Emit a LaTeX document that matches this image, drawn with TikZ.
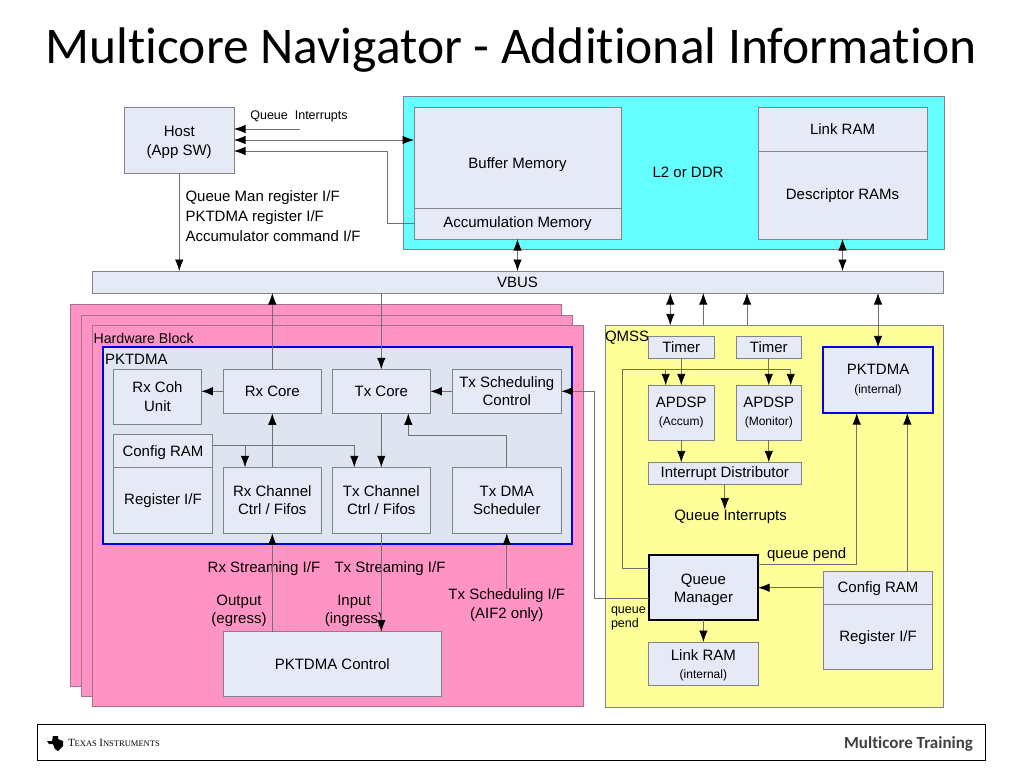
\documentclass[tikz,border=0pt]{standalone}
\usepackage{fontspec}
\setmainfont{Liberation Sans}
\newfontfamily\titlefont[Ligatures={NoCommon}]{Carlito}
\newfontfamily\logofont{Liberation Serif}
\usetikzlibrary{arrows.meta}

\definecolor{boxfill}{HTML}{E6EAF6}
\definecolor{dmafill}{HTML}{DEE5F0}
\definecolor{boxline}{HTML}{808488}
\definecolor{wiregray}{HTML}{707070}
\definecolor{pinkfill}{HTML}{FF94C4}
\definecolor{pinkline}{HTML}{A8708C}
\definecolor{cyanfill}{HTML}{66FFFF}
\definecolor{yellowfill}{HTML}{FFFF99}
\definecolor{dmablue}{HTML}{0000E0}

\tikzset{boxsize/.style 2 args={minimum width=#1pt,minimum height=#2pt}}

\begin{document}
\begin{tikzpicture}[x=1pt,y=-1pt,>={Latex[black,fill=black,length=11.5pt,width=8.5pt]}]
		\tikzstyle{every node}=[inner sep=0pt,outer sep=0pt,align=center]
		\tikzstyle{wire}=[color=wiregray,line width=0.8pt]
		\tikzstyle{hwbox}=[draw=boxline,fill=boxfill,line width=0.8pt,
								 font=\fontsize{15}{18.5}\selectfont]
		\tikzstyle{pinkbox}=[draw=pinkline,fill=pinkfill,line width=0.8pt]
		\tikzstyle{lbl}=[font=\fontsize{15}{18.5}\selectfont]
		\tikzstyle{smalllbl}=[font=\fontsize{12.5}{14}\selectfont]
		\newcommand*{\subtext}[1]{{\fontsize{12}{13}\selectfont #1}}

\useasboundingbox (0,0) rectangle (1024,768);

\node [font=\titlefont\fontsize{51.5}{51.5}\selectfont] at (511,50) (title) {Multicore Navigator - Additional Information};

% Memory Level
\node [draw=boxline,fill=cyanfill,boxsize={541}{153}] at (673.5,172.5) (l2back) {};
\node [lbl] at (688,172) (l2ddr) {L2 or DDR};
\node [hwbox,boxsize={207}{101}] at (517.5,157.5) (bufmem) {};
\node [lbl] at (517.5,164.5) (buflabel) {Buffer Memory};
\node [hwbox,boxsize={207}{31}] at (517.5,223.5) (accmem) {Accumulation Memory};
\node [hwbox,boxsize={169}{44}] at (842.5,129) (linkram) {Link RAM};
\node [hwbox,boxsize={169}{88},text height=13pt] at (842.5,195) (descram) {Descriptor RAMs};

\node [hwbox,boxsize={109.5}{66},text height=33.5pt] at (179.25,140) (host) {Host\\(App SW)};
\node [smalllbl] at (299,116.5) (qilabel) {Queue~~Interrupts};
\node [lbl,align=left,font=\fontsize{15}{20}\selectfont,anchor=west] at (185.5,216) (hostif) {Queue Man register I/F\\PKTDMA register I/F\\Accumulator command I/F};
\coordinate (qifree) at (300,129);
\coordinate (accbend) at (387,151);

\node [hwbox,boxsize={851}{22}] at (517.5,282) (vbus) {VBUS};

% Hardware Block Level
\node [pinkbox,boxsize={491}{382}] at (316.2,495) (hwback) {};
\node [pinkbox,boxsize={491}{381}] at (327.2,505.5) (hwmid) {};
\node [pinkbox,boxsize={491}{381}] at (338.2,516.2) (hwblock) {};
\node [font=\fontsize{14.2}{18}\selectfont,anchor=west] at (93.5,338) (hwlabel) {Hardware Block};

\node [draw=dmablue,fill=dmafill,line width=2pt,boxsize={469.6}{197}] at (337.5,445.8) (pktdma) {};
\node [lbl,anchor=west] at (105,359) (dmalabel) {PKTDMA};
\node [hwbox,boxsize={87.6}{54.7}] at (157.5,396.7) (rxcoh) {Rx Coh\\Unit};
\node [hwbox,boxsize={98}{44}] at (272.3,391.3) (rxcore) {Rx Core};
\node [hwbox,boxsize={98}{44}] at (381.3,391.3) (txcore) {Tx Core};
\node [hwbox,boxsize={109}{44}] at (506.8,391.3) (txsched) {Tx Scheduling\\Control};
\node [hwbox,boxsize={98.6}{32.6},text height=15pt] at (163,451) (cfgram) {Config RAM};
\node [hwbox,boxsize={98.6}{66}] at (163,500.3) (regif) {Register I/F};
\node [hwbox,boxsize={98}{66}] at (272.3,500.3) (rxchan) {Rx Channel\\Ctrl / Fifos};
\node [hwbox,boxsize={98}{66}] at (381.3,500.3) (txchan) {Tx Channel\\Ctrl / Fifos};
\node [hwbox,boxsize={109}{66}] at (506.8,500.3) (txdma) {Tx DMA\\Scheduler};
\coordinate (rxcfg) at (245,445.3);
\coordinate (txcfg) at (354.3,445.3);
\coordinate (dmabend) at (408.3,435);

\node [hwbox,boxsize={218}{64.6}] at (332.3,664) (pkctrl) {PKTDMA Control};
\node [lbl] at (264,568.5) (rxstream) {Rx Streaming I/F};
\node [lbl] at (390,568.5) (txstream) {Tx Streaming I/F};
\node [lbl] at (239,611) (egress) {Output\\(egress)};
\node [lbl] at (354,611) (ingress) {Input\\(ingress)};
\node [lbl] at (506.8,605) (txschedif) {Tx Scheduling I/F\\(AIF2 only)};

% QMSS Level
\node [draw=boxline,fill=yellowfill,line width=0.8pt,boxsize={338}{381.7}] at (774.3,516.2) (qmss) {};
\node [lbl,anchor=west] at (605,338) (qmsslabel) {QMSS};
\node [hwbox,boxsize={66}{22}] at (681.3,347.3) (timera) {Timer};
\node [hwbox,boxsize={65}{22}] at (768.8,347.3) (timerb) {Timer};
\node [hwbox,boxsize={66}{54.7}] at (681.3,412.7) (apdspa) {APDSP\\\subtext{(Accum)}};
\node [hwbox,boxsize={65}{54.7}] at (768.8,412.7) (apdspb) {APDSP\\\subtext{(Monitor)}};
\node [hwbox,boxsize={153}{21.7}] at (724.8,473.2) (intdist) {Interrupt Distributor};
\node [lbl] at (730.6,516.5) (qilow) {Queue Interrupts};
\node [draw=dmablue,fill=boxfill,line width=2pt,font=\fontsize{15}{18.5}\selectfont,boxsize={109.4}{65.7}] at (878,380.2) (pktint) {PKTDMA\\\subtext{(internal)}};
\node [draw=black,fill=boxfill,line width=2pt,font=\fontsize{15}{18.5}\selectfont,boxsize={109.3}{65.6},text height=33.5pt] at (703.4,587.5) (qman) {Queue\\Manager};
\node [hwbox,boxsize={109.3}{43.3},text height=33pt] at (703.4,663.7) (linkint) {Link RAM\\\subtext{(internal)}};
\node [hwbox,boxsize={109.4}{32.7},text height=13pt] at (878,587.7) (cfgqm) {Config RAM};
\node [hwbox,boxsize={109.4}{65.3},text height=13pt] at (878,636.7) (regqm) {Register I/F};
\node [lbl] at (806.7,554.5) (qplabel) {queue pend};
\node [smalllbl,align=left,anchor=west] at (611,618.5) (qpsmall) {queue\\pend};
\coordinate (busleft) at (622.7,369.3);
\coordinate (busright) at (790.7,369.3);
\coordinate (busa) at (665.7,369.3);
\coordinate (busbottom) at (622.7,568.3);
\coordinate (pendup) at (856.7,564.3);
\coordinate (cfgup) at (907.3,571.3);
\coordinate (schedbend) at (594.3,598);
\coordinate (vbusa) at (670.3,293);
\coordinate (vbusb) at (703.3,293);
\coordinate (vbusc) at (747,293);

% Connections
	\path[wire,->] (host.south) edge (host.south |- vbus.north);
	\path[wire,->] (qifree) edge (qifree -| host.east);
	\path[wire,<->] (host.east) edge (host.east -| bufmem.west);
	\draw[wire,->] (accmem.west) -| (accbend) -- (accbend -| host.east);
	\path[wire,<->] (accmem.south) edge (accmem.south |- vbus.north);
	\path[wire,<->] (descram.south) edge (descram.south |- vbus.north);

	\path[wire,->] (rxcore.north) edge (rxcore.north |- vbus.south);
	\path[wire,->] (txcore.north |- vbus.south) edge (txcore.north);
	\path[wire,->] (rxcore.west) edge (rxcoh.east |- rxcore.west);
	\path[wire,->] (txsched.west) edge (txcore.east);
	\path[wire,->] (rxchan.north) edge (rxcore.south);
	\path[wire,->] (txcore.south) edge (txchan.north);
	\draw[wire,->] (cfgram.east |- rxcfg) -- (txcfg) -- (txcfg |- txchan.north);
	\path[wire,->] (rxcfg) edge (rxcfg |- rxchan.north);
	\draw[wire,->] (txdma.north) |- (dmabend) -- (dmabend |- txcore.south);
	\path[wire,->] (rxchan.south |- pkctrl.north) edge (rxchan.south);
	\path[wire,->] (txchan.south) edge (txchan.south |- pkctrl.north);
	\path[wire,->] (txschedif.north) edge (txdma.south);

	\draw[wire,->] (qman.west |- schedbend) -- (schedbend) |- (txsched.east);
	\path[wire,<->] (vbusa) edge (vbusa |- qmss.north);
	\path[wire,->] (vbusb |- qmss.north) edge (vbusb);
	\path[wire,->] (vbusc |- qmss.north) edge (vbusc);
	\path[wire,<->] (pktint.north) edge (pktint.north |- vbus.south);
	\path[wire,->] (timera.south) edge (apdspa.north);
	\path[wire,->] (timerb.south) edge (apdspb.north);
	\draw[wire,->] (qman.west |- busbottom) -- (busbottom) -- (busleft) -- (busright) -- (busright |- apdspb.north);
	\path[wire,->] (busa) edge (busa |- apdspa.north);
	\path[wire,->] (apdspa.south) edge (apdspa.south |- intdist.north);
	\path[wire,->] (apdspb.south) edge (apdspb.south |- intdist.north);
	\path[wire,->] (intdist.south) edge (qilow.north -| intdist.south);
	\draw[wire,->] (qman.east |- pendup) -- (pendup) -- (pendup |- pktint.south);
	\path[wire,->] (cfgup) edge (cfgup |- pktint.south);
	\path[wire,->] (cfgqm.west) edge (cfgqm.west -| qman.east);
	\path[wire,->] (qman.south) edge (linkint.north);

% Footer
\node [draw=black,line width=1pt,boxsize={947.6}{35.3}] at (511.5,742.6) (footer) {};
\fill[black] (47,741) -- (52,741) -- (53,736) -- (58,736) -- (58,739) -- (63,741) -- (63,746) -- (58,751) -- (55,749) -- (53,744) -- (49,744) -- cycle;
\node [anchor=west,font=\logofont] at (68,742.5) (tilogo) {{\fontsize{11}{11}\selectfont T}{\fontsize{8.5}{11}\selectfont EXAS} {\fontsize{11}{11}\selectfont I}{\fontsize{8.5}{11}\selectfont NSTRUMENTS}};
\node [anchor=east,text=black!75,font=\titlefont\bfseries\fontsize{17}{17}\selectfont] at (973,744) (mctrain) {Multicore Training};

\end{tikzpicture}
\end{document}
